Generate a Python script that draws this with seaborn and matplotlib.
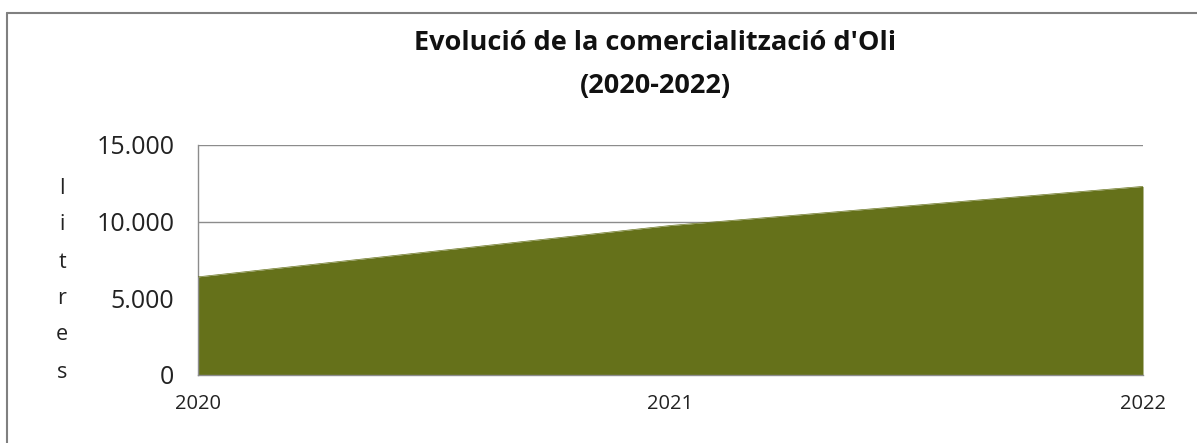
import matplotlib
matplotlib.use("Agg")
import matplotlib.pyplot as plt
from matplotlib.lines import Line2D
from matplotlib.ticker import FuncFormatter
import seaborn as sns
import pandas as pd

years = [2020, 2021, 2022]
litres = [6400, 9750, 12300]
year_labels = ["2020", "2021", "2022"]
y_ticks = [0, 5000, 10000, 15000]
title_line1 = "Evolució de la comercialització d'Oli"
title_line2 = "(2020-2022)"
ylabel_letters = list("litres")

sns.set_theme(style="white")
plt.rcParams['font.family'] = ['Open Sans', 'DejaVu Sans']

df = pd.DataFrame({"any": years, "litres": litres})

W, H = 1197, 443
fig = plt.figure(figsize=(W / 100, H / 100), dpi=100)
ax = fig.add_axes([198 / W, 1 - 375 / H, (1143 - 198) / W, (375 - 145) / H])

color = "#65711a"
ax.fill_between(df["any"], 0, df["litres"], color=color, linewidth=0, zorder=2)
sns.lineplot(data=df, x="any", y="litres", color=color, linewidth=0.5, ax=ax, zorder=3)

ax.set_xlim(years[0], years[-1])
ax.set_ylim(0, 15000)
ax.set_yticks(y_ticks)
ax.yaxis.set_major_formatter(FuncFormatter(lambda v, p: f"{int(v):,}".replace(",", ".")))
ax.set_xticks(years)
ax.set_xticklabels(year_labels)
ax.grid(axis="y", color="#8c8c8c", linewidth=1.0, zorder=1)
ax.grid(axis="x", visible=False)
for s in ["top", "right"]:
    ax.spines[s].set_visible(False)
for s in ["left", "bottom"]:
    ax.spines[s].set_color("#8c8c8c")
    ax.spines[s].set_linewidth(1.0)
ax.tick_params(axis="y", length=0, pad=17, labelsize=18, labelcolor="#222222")
ax.tick_params(axis="x", length=0, pad=14, labelsize=14.5, labelcolor="#222222")
ax.set_xlabel("")
ax.set_ylabel("")

# vertical stacked y-axis label
ys = [188, 225, 262, 298, 335, 372]
for ch, yp in zip(ylabel_letters, ys):
    fig.text(62 / W, 1 - yp / H, ch, ha="center", va="center", fontsize=15.5, color="#222222")

fig.text(655 / W, 1 - 43 / H, title_line1, ha="center", va="center",
         fontsize=19.5, fontweight="bold", color="#111111")
fig.text(655 / W, 1 - 86 / H, title_line2, ha="center", va="center",
         fontsize=19.5, fontweight="bold", color="#111111")

# outer chart frame (left and top edges visible)
fig.add_artist(Line2D([7 / W, 7 / W], [0, 1 - 12.5 / H], transform=fig.transFigure,
                      color="#808080", linewidth=1.5))
fig.add_artist(Line2D([7 / W, 1], [1 - 12.5 / H, 1 - 12.5 / H], transform=fig.transFigure,
                      color="#808080", linewidth=1.5))

fig.savefig("out.png", dpi=100, facecolor="white")
